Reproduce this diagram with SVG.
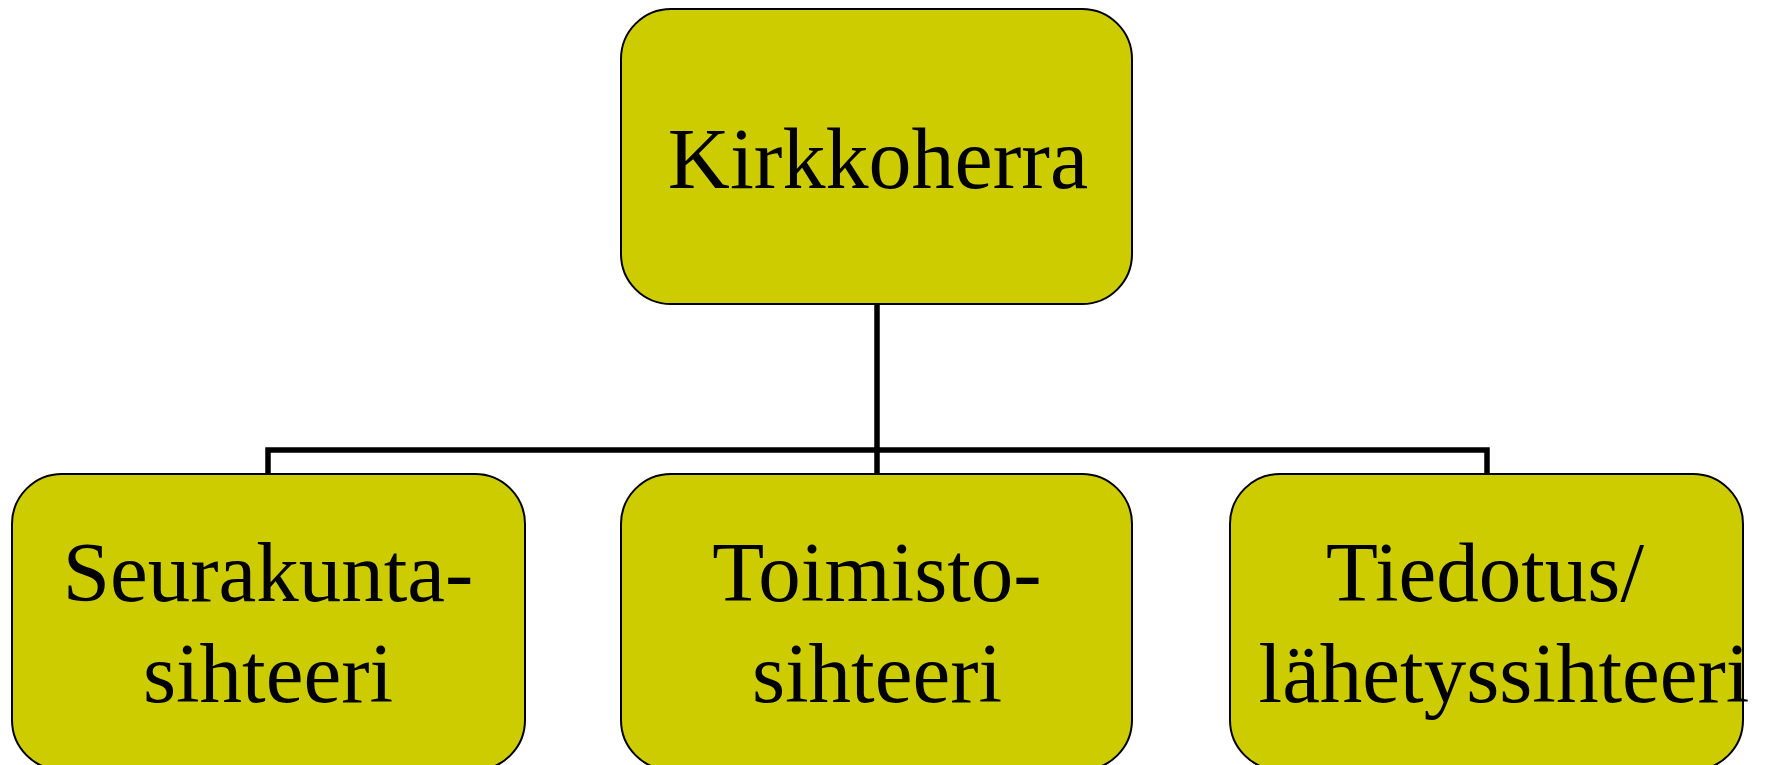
<svg xmlns="http://www.w3.org/2000/svg" width="1765" height="765" viewBox="0 0 1765 765">
<style>
.box{fill:#CCCC00;stroke:#000;stroke-width:2}
.t{font-family:"Liberation Serif","Times New Roman",serif;fill:#000;text-anchor:middle;font-size:85px}
.c{fill:none;stroke:#000;stroke-width:5.5}
</style>
<rect width="1765" height="765" fill="#fff"/>
<g id="connectors">
<path class="c" d="M877,304 V474 M268,474 V450 H1487 V474"/>
</g>
<g id="n-kirkkoherra">
<rect class="box" x="621" y="9" width="511" height="295" rx="50"/>
<text class="t" x="878" y="188" style="font-size:86px">Kirkkoherra</text>
</g>
<g id="n-seurakunta">
<rect class="box" x="12" y="474" width="513" height="296" rx="50"/>
<text class="t" x="268" y="601">Seurakunta-</text>
<text class="t" x="268" y="702">sihteeri</text>
</g>
<g id="n-toimisto">
<rect class="box" x="621" y="474" width="511" height="296" rx="50"/>
<text class="t" x="877" y="601">Toimisto-</text>
<text class="t" x="877" y="702">sihteeri</text>
</g>
<g id="n-tiedotus">
<rect class="box" x="1230" y="474" width="513" height="296" rx="50"/>
<text class="t" x="1485" y="601">Tiedotus/</text>
<text class="t" x="1504" y="702">lähetyssihteeri</text>
</g>
</svg>
